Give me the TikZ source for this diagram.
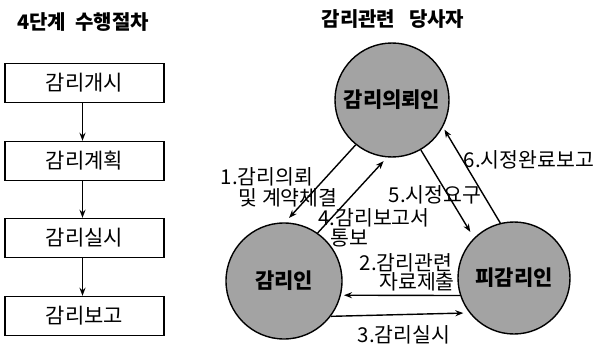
\documentclass[tikz,border=0pt]{standalone}
\usepackage{fontspec}
\setmainfont{Noto Sans CJK KR}
\usetikzlibrary{arrows.meta}
\begin{document}
\begin{tikzpicture}[x=1pt,y=-1pt,
  stepbox/.style={draw,line width=1.4pt,minimum width=159pt,minimum height=39pt,inner sep=0pt,font=\fontsize{21}{24}\selectfont},
  party/.style={circle,draw,line width=1.4pt,fill=black!36,minimum size=#1,inner sep=0pt,font=\fontsize{21}{24}\selectfont\bfseries},
  flow/.style={line width=1.4pt,-{Stealth[length=8pt,width=6pt]}},
  lbl/.style={inner sep=0pt,font=\fontsize{20.5}{24}\selectfont},
  ttl/.style={inner sep=0pt,font=\fontsize{20}{24}\selectfont\bfseries}]
\useasboundingbox (0,0) rectangle (598,348);
% left column
\node[ttl] (t1) at (83,22) {4단계\ \ 수행절차};
\node[stepbox] (b1) at (84.5,83) {감리개시};
\node[stepbox] (b2) at (84.5,161) {감리계획};
\node[stepbox] (b3) at (84.5,238) {감리실시};
\node[stepbox] (b4) at (84.5,316) {감리보고};
\foreach \a/\b in {b1/b2,b2/b3,b3/b4}
  \draw[flow] ([xshift=-2pt]\a.south) -- ([xshift=-2pt]\b.north);
% right part
\node[ttl] (t2) at (393,19) {감리관련\ \ \ 당사자};
\node[party=114pt] (top) at (392,100) {감리의뢰인};
\node[party=116pt] (left) at (284,281) {감리인};
\node[party=112pt] (right) at (514,278) {피감리인};
% arrows
\draw[flow,shorten >=6pt] (top.231) -- (left.89);
\draw[flow,shorten >=5pt] (left.55) -- (top.265);
\draw[flow,shorten >=7pt] (top.300) -- (right.135);
\draw[flow,shorten >=3pt] (right.104) -- (top.332);
\draw[flow,shorten >=3pt] (right.198) -- (left.346);
\draw[flow,shorten >=6pt] (left.323) -- (right.218);
% labels
\node[lbl] (l1a) at (267,177) {1.감리의뢰};
\node[lbl] (l1b) at (288,198) {및 계약체결};
\node[lbl] (l4a) at (374,218) {4.감리보고서};
\node[lbl] (l4b) at (349,238) {통보};
\node[lbl] (l5) at (435,195) {5.시정요구};
\node[lbl] (l6) at (529,160) {6.시정완료보고};
\node[lbl] (l2a) at (406,263) {2.감리관련};
\node[lbl] (l2b) at (417,282) {자료제출};
\node[lbl] (l3) at (404,335) {3.감리실시};
\end{tikzpicture}
\end{document}
